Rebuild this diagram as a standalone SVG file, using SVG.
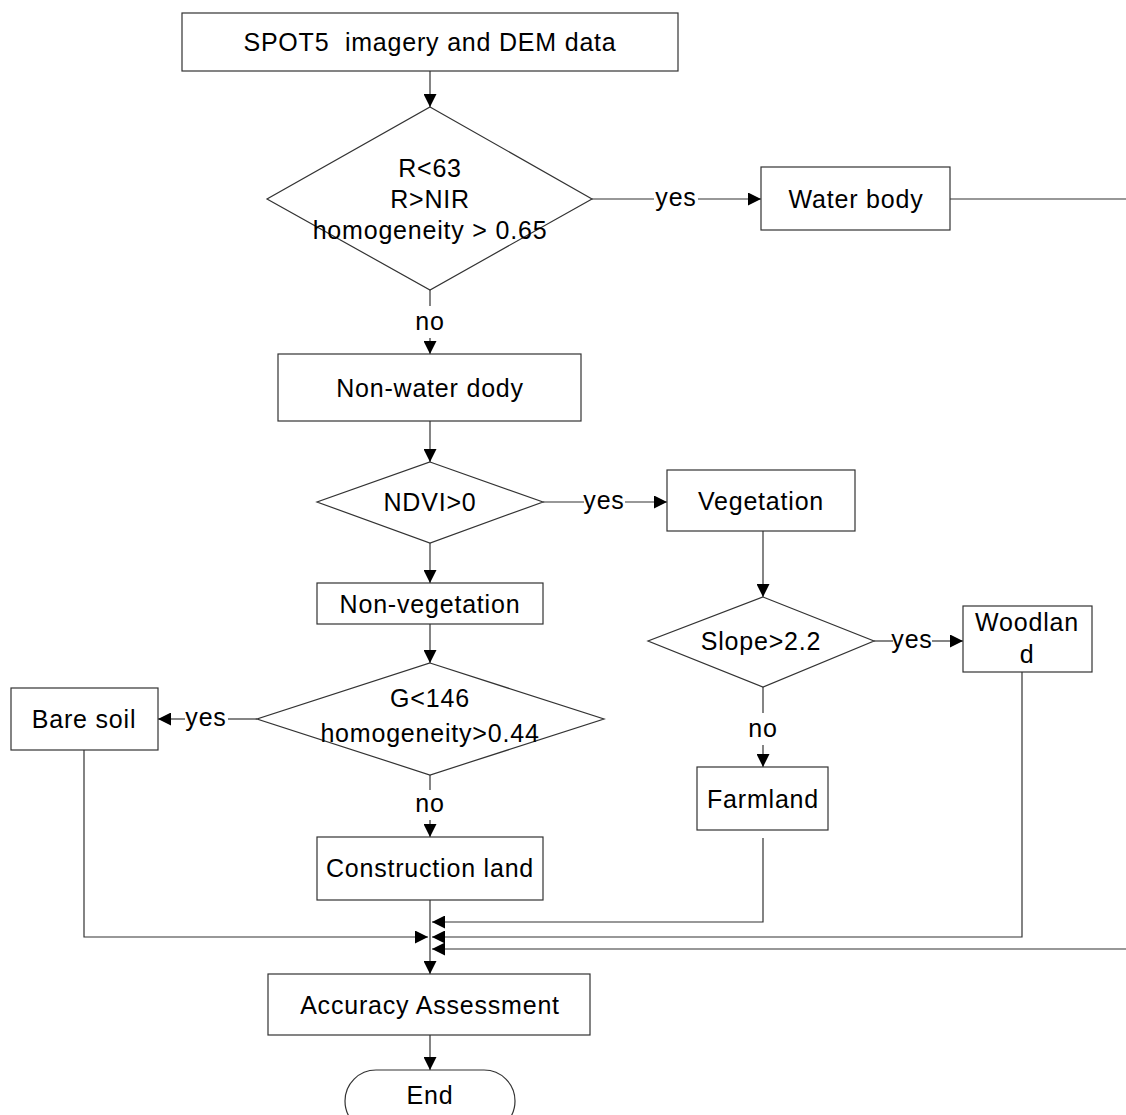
<svg xmlns="http://www.w3.org/2000/svg" width="1126" height="1115" viewBox="0 0 1126 1115">
<style>
.n{fill:#fff;stroke:#333;stroke-width:1.2}
.c{fill:none;stroke:#333;stroke-width:1.2}
text{font-family:"Liberation Sans",Arial,sans-serif;font-size:25px;letter-spacing:0.8px;fill:#000;text-anchor:middle;white-space:pre}
</style>
<defs>
<marker id="ah" viewBox="0 0 13 13" markerWidth="13" markerHeight="13" refX="13" refY="6.5" orient="auto" markerUnits="userSpaceOnUse">
<path d="M0,0 L13,6.5 L0,13 z" fill="#000"/>
</marker>
</defs>
<rect width="1126" height="1115" fill="#fff"/>
<g id="connectors">
<path class="c" d="M430,71 V107" marker-end="url(#ah)"/>
<path class="c" d="M592,199 H654"/>
<path class="c" d="M698,199 H761" marker-end="url(#ah)"/>
<path class="c" d="M950,199 H1130 V949 H432" marker-end="url(#ah)"/>
<path class="c" d="M430,290 V306"/>
<path class="c" d="M430,338 V354" marker-end="url(#ah)"/>
<path class="c" d="M430,421 V462" marker-end="url(#ah)"/>
<path class="c" d="M543,502 H584"/>
<path class="c" d="M625,502 H667" marker-end="url(#ah)"/>
<path class="c" d="M430,543 V583" marker-end="url(#ah)"/>
<path class="c" d="M763,531 V597" marker-end="url(#ah)"/>
<path class="c" d="M430,624 V663" marker-end="url(#ah)"/>
<path class="c" d="M257,719 H228"/>
<path class="c" d="M185,719 H158" marker-end="url(#ah)"/>
<path class="c" d="M874,641 H893"/>
<path class="c" d="M932,641 H963" marker-end="url(#ah)"/>
<path class="c" d="M430,775 V790"/>
<path class="c" d="M430,820 V837" marker-end="url(#ah)"/>
<path class="c" d="M763,687 V713"/>
<path class="c" d="M763,745 V767" marker-end="url(#ah)"/>
<path class="c" d="M763,838 V922 H432" marker-end="url(#ah)"/>
<path class="c" d="M84,750 V937 H428" marker-end="url(#ah)"/>
<path class="c" d="M1022,672 V937 H432" marker-end="url(#ah)"/>
<path class="c" d="M430,900 V974" marker-end="url(#ah)"/>
<path class="c" d="M430,1035 V1070" marker-end="url(#ah)"/>
<text x="676" y="206">yes</text>
<text x="430" y="330">no</text>
<text x="604" y="509">yes</text>
<text x="206" y="726">yes</text>
<text x="912" y="648">yes</text>
<text x="430" y="812">no</text>
<text x="763" y="737">no</text>
</g>
<g id="n-spot5">
<rect class="n" x="182" y="13" width="496" height="58"/>
<text x="430" y="51">SPOT5  imagery and DEM data</text>
</g>
<g id="d-water">
<polygon class="n" points="430,107 592,199 430,290 267,199"/>
<text x="430" y="177">R&lt;63</text>
<text x="430" y="208">R&gt;NIR</text>
<text x="430" y="239">homogeneity &gt; 0.65</text>
</g>
<g id="n-waterbody">
<rect class="n" x="761" y="167" width="189" height="63"/>
<text x="856" y="208">Water body</text>
</g>
<g id="n-nonwater">
<rect class="n" x="278" y="354" width="303" height="67"/>
<text x="430" y="397">Non-water dody</text>
</g>
<g id="d-ndvi">
<polygon class="n" points="430,462 543,502 430,543 317,502"/>
<text x="430" y="511">NDVI&gt;0</text>
</g>
<g id="n-vegetation">
<rect class="n" x="667" y="470" width="188" height="61"/>
<text x="761" y="510">Vegetation</text>
</g>
<g id="n-nonveg">
<rect class="n" x="317" y="583" width="226" height="41"/>
<text x="430" y="613">Non-vegetation</text>
</g>
<g id="d-g146">
<polygon class="n" points="430,663 604,719 430,775 257,719"/>
<text x="430" y="707">G&lt;146</text>
<text x="430" y="742">homogeneity&gt;0.44</text>
</g>
<g id="n-baresoil">
<rect class="n" x="11" y="688" width="147" height="62"/>
<text x="84" y="728">Bare soil</text>
</g>
<g id="n-construction">
<rect class="n" x="317" y="837" width="226" height="63"/>
<text x="430" y="877">Construction land</text>
</g>
<g id="d-slope">
<polygon class="n" points="763,597 874,641 763,687 648,641"/>
<text x="761" y="650">Slope&gt;2.2</text>
</g>
<g id="n-woodland">
<rect class="n" x="963" y="606" width="129" height="66"/>
<text x="1027" y="631">Woodlan</text>
<text x="1027" y="663">d</text>
</g>
<g id="n-farmland">
<rect class="n" x="697" y="767" width="131" height="63"/>
<text x="763" y="808">Farmland</text>
</g>
<g id="n-accuracy">
<rect class="n" x="268" y="974" width="322" height="61"/>
<text x="430" y="1014">Accuracy Assessment</text>
</g>
<g id="n-end">
<rect class="n" x="345" y="1070" width="170" height="62" rx="31"/>
<text x="430" y="1104">End</text>
</g>
</svg>
